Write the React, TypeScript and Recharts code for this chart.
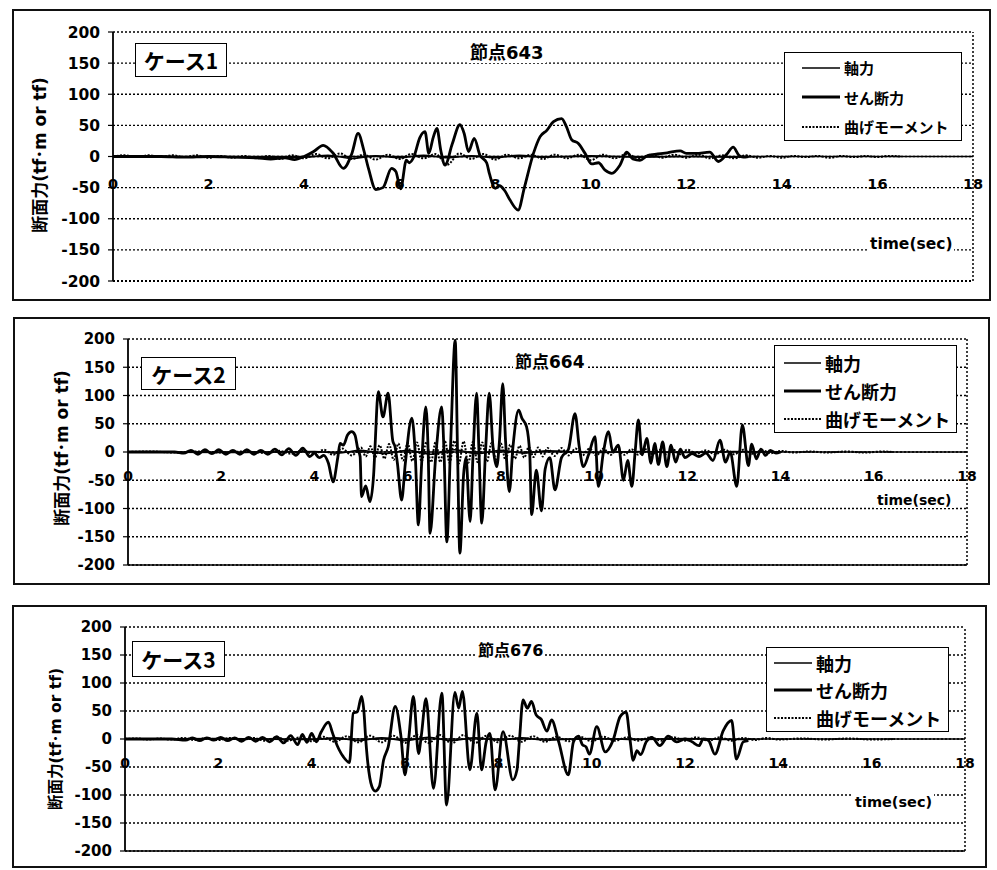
import React from 'react';
import { LineChart, Line, XAxis, YAxis, CartesianGrid, ReferenceLine, Legend } from 'recharts';

// axis ticks and labels
const timeTicks = [0, 2, 4, 6, 8, 10, 12, 14, 16, 18];
const forceTicks = [-200, -150, -100, -50, 0, 50, 100, 150, 200];
const seriesNames = ['軸力', 'せん断力', '曲げモーメント'];
const caseLabels = ['ケース1', 'ケース2', 'ケース3'];
const nodeLabels = ['節点643', '節点664', '節点676'];
const yTitle = '断面力(tf･m or tf)';
const xTitle = 'time(sec)';

// ケース1  [time, value]
const axial1: [number, number][] = [
  [0, 0], [2, -1], [4, -1], [4.5, 2], [5, -3], [5.5, 1], [6, -2], [6.5, 2], [7, -2], [7.5, 1],
  [8, -2], [8.5, 2], [9, -1], [10, 1], [11, -1], [12, 0], [13, -1], [13.5, 0],
];
const shear1: [number, number][] = [
  [0, 0], [0.5, 0], [1, 0], [1.5, -1], [2, 0], [2.5, -1], [3, -2], [3.3, -4], [3.6, -2], [3.8, -5],
  [4.0, 0], [4.2, 8], [4.4, 18], [4.6, 6], [4.82, -19], [5.0, 5], [5.13, 37], [5.25, 10], [5.35, -20],
  [5.5, -53], [5.65, -50], [5.83, -19], [5.92, -24], [6.02, -52], [6.14, -6], [6.2, -10], [6.3, 0],
  [6.42, 30], [6.53, 40], [6.61, 5], [6.7, 30], [6.78, 45], [6.86, 10], [6.95, -14], [7.1, 20],
  [7.26, 51], [7.35, 37], [7.44, 8], [7.56, 29], [7.68, 2], [7.82, -10], [7.88, -28], [8.0, -51],
  [8.09, -47], [8.2, -55], [8.31, -70], [8.48, -86], [8.61, -50], [8.8, 5], [8.94, 32], [9.08, 42],
  [9.22, 56], [9.39, 61], [9.49, 48], [9.6, 27], [9.74, 21], [9.88, 5], [10.02, -12], [10.16, -10],
  [10.3, -22], [10.44, -27], [10.61, -14], [10.75, 7], [10.88, -4], [11.03, -6], [11.2, 2], [11.4, 4],
  [11.6, 6], [11.87, 9], [12.0, 5], [12.2, 5], [12.49, 7], [12.67, -8], [12.85, 4], [12.98, 15],
  [13.1, 2], [13.19, -1], [13.3, 0],
];
const moment1: [number, number][] = [
  [0, 0], [0.25, 2], [0.5, -1], [0.75, 2], [1, -1], [1.25, 2], [1.5, -1], [1.75, 2], [2, -2], [2.25, 1],
  [2.5, -2], [2.75, 1], [3, -3], [3.25, 1], [3.5, -4], [3.75, 2], [4, -3], [4.25, 4], [4.5, -3], [4.75, 5],
  [5, -4], [5.25, 3], [5.5, -5], [5.75, 3], [6, -4], [6.25, 4], [6.5, -3], [6.75, 4], [7, -13], [7.25, 5],
  [7.5, -4], [7.75, 4], [8, -5], [8.25, 3], [8.5, -3], [8.75, 3], [9, -4], [9.25, 3], [9.5, -3], [9.75, 3],
  [10, -6], [10.25, 3], [10.5, -3], [10.75, 4], [11, -3], [11.25, 3], [11.5, -2], [11.75, 3], [12, -2],
  [12.25, 3], [12.5, -3], [12.75, 2], [13, -3], [13.25, 2], [13.5, -2], [13.75, 1], [14, -2], [14.25, 1],
  [14.5, -1], [14.75, 1], [15, -2], [15.25, 1], [15.5, -1], [15.75, 1], [16, -1], [16.25, 1], [16.5, 0],
];

// ケース2
const axial2: [number, number][] = [
  [0, 0], [2, -1], [4, 1], [4.5, -2], [5, 3], [5.5, -3], [6, 3], [6.5, -4], [7, 4], [7.5, -3],
  [8, 3], [8.5, -2], [9, 2], [10, -1], [11, 1], [12, -1], [13, 1], [14, 0],
];
const shear2: [number, number][] = [
  [0, 0], [1.0, 0], [1.2, -2], [1.35, 3], [1.5, -4], [1.65, 4], [1.8, -3], [1.95, 4], [2.1, -4], [2.25, 3],
  [2.4, -4], [2.55, 4], [2.7, -4], [2.85, 3], [3.0, -4], [3.15, 5], [3.3, -5], [3.45, 6], [3.6, -6],
  [3.75, 7], [3.9, -8], [4.0, -2], [4.1, -10], [4.2, -6], [4.3, -20], [4.4, -53], [4.5, -10], [4.55, 15],
  [4.62, 12], [4.71, 30], [4.8, 36], [4.87, 30], [4.93, 5], [4.98, -8], [5.01, -79], [5.1, -60],
  [5.19, -88], [5.27, -40], [5.3, 10], [5.37, 107], [5.47, 62], [5.58, 104], [5.68, 20], [5.73, 9],
  [5.78, -20], [5.87, -85], [5.95, -20], [6.09, 60], [6.16, 0], [6.23, -129], [6.3, -20], [6.39, 80],
  [6.44, 0], [6.48, -144], [6.6, -10], [6.73, 80], [6.78, 0], [6.84, -159], [6.92, 10], [7.02, 198],
  [7.07, 0], [7.12, -179], [7.2, -40], [7.25, -10], [7.34, -123], [7.4, -10], [7.48, 104], [7.53, 0],
  [7.59, -126], [7.67, 0], [7.75, 104], [7.83, 10], [7.91, -26], [7.97, 20], [8.04, 121], [8.1, 20],
  [8.18, -70], [8.26, 10], [8.38, 74], [8.45, 60], [8.55, 45], [8.62, -5], [8.66, -111], [8.76, -32],
  [8.87, -104], [8.95, -30], [9.05, -10], [9.16, -67], [9.3, -10], [9.45, 5], [9.59, 68], [9.68, 10],
  [9.77, -26], [9.88, -5], [10.02, 27], [10.09, -61], [10.2, 0], [10.31, 36], [10.4, 0], [10.52, 12],
  [10.63, -50], [10.72, -15], [10.81, -61], [10.88, 0], [10.95, 57], [11.03, -5], [11.13, 24],
  [11.22, -20], [11.3, 15], [11.38, -22], [11.47, 18], [11.56, -26], [11.65, 12], [11.75, -18],
  [11.85, 5], [11.95, -10], [12.1, -3], [12.25, -8], [12.4, -2], [12.55, -15], [12.7, 21], [12.82, -18],
  [12.92, 0], [13.06, -61], [13.18, 48], [13.31, -24], [13.38, 14], [13.48, -12], [13.58, 5],
  [13.68, -6], [13.78, 3], [13.9, -2], [14.0, 0],
];
const moment2: [number, number][] = [
  [0, 0], [0.5, 1], [1, -1], [1.5, 1], [2, -1], [2.5, 1], [3, -2], [3.25, 2], [3.5, -3], [3.75, 3],
  [4, -4], [4.2, 4], [4.4, -5], [4.6, 6], [4.8, -6], [5.0, 8], [5.1, -8], [5.2, 10], [5.3, -10],
  [5.4, 12], [5.5, -12], [5.6, 14], [5.7, -14], [5.8, 15], [5.9, -15], [6.0, 16], [6.1, -16], [6.2, 17],
  [6.3, -17], [6.4, 18], [6.5, -18], [6.6, 18], [6.7, -18], [6.8, 19], [6.9, -19], [7.0, 20], [7.1, -20],
  [7.2, 19], [7.3, -19], [7.4, 18], [7.5, -18], [7.6, 17], [7.7, -17], [7.8, 16], [7.9, -16], [8.0, 15],
  [8.1, -14], [8.2, 13], [8.3, -12], [8.4, 11], [8.5, -10], [8.6, 9], [8.7, -9], [8.8, 8], [8.9, -8],
  [9.0, 7], [9.15, -7], [9.3, 7], [9.45, -6], [9.6, 6], [9.75, -6], [9.9, 6], [10.05, -6], [10.2, 6],
  [10.35, -5], [10.5, 5], [10.65, -5], [10.8, 5], [10.95, -5], [11.1, 5], [11.25, -4], [11.4, 4],
  [11.55, -4], [11.7, 4], [11.85, -4], [12.0, 4], [12.2, -3], [12.4, 3], [12.6, -4], [12.8, 4], [13.0, -4],
  [13.2, 4], [13.4, -3], [13.6, 3], [13.8, -2], [14.0, 2], [14.3, -1], [14.6, 1], [15.0, -1], [15.4, 1],
  [15.8, -1], [16.2, 1], [16.4, 0],
];

// ケース3
const axial3: [number, number][] = [
  [0, 0], [2, 1], [4, -1], [4.5, 2], [5, -3], [5.5, 2], [6, -3], [6.5, 3], [7, -3], [7.5, 2],
  [8, -2], [8.5, 2], [9, -2], [10, 1], [11, -1], [12, 1], [13, -1], [13.5, 0],
];
const shear3: [number, number][] = [
  [0, 0], [1.0, 0], [1.3, -2], [1.45, 2], [1.6, -3], [1.75, 2], [1.9, -2], [2.05, 3], [2.2, -3],
  [2.35, 2], [2.5, -4], [2.65, 3], [2.8, -4], [2.95, 3], [3.1, -5], [3.25, 4], [3.4, -7], [3.55, 6],
  [3.7, -10], [3.8, 8], [3.9, -6], [4.0, 10], [4.1, -5], [4.2, 12], [4.36, 30], [4.45, 10], [4.5, -2],
  [4.68, -32], [4.81, -42], [4.89, 46], [4.98, 49], [5.07, 76], [5.12, 49], [5.16, -2], [5.29, -85],
  [5.36, -93], [5.45, -85], [5.54, -38], [5.64, -14], [5.79, 58], [5.91, 7], [6.0, -64], [6.08, 0],
  [6.18, 76], [6.29, -26], [6.35, 6], [6.45, 72], [6.61, -88], [6.79, 82], [6.89, -118], [7.07, 83],
  [7.15, 55], [7.23, 85], [7.39, -55], [7.54, 46], [7.64, -55], [7.74, -5], [7.82, 10], [7.93, -91],
  [8.1, 13], [8.31, -73], [8.4, -55], [8.45, -5], [8.53, 70], [8.62, 55], [8.71, 67], [8.81, 43],
  [8.92, 35], [9.04, 14], [9.14, 34], [9.29, -4], [9.5, -64], [9.61, -5], [9.72, 5], [9.8, -10],
  [9.88, -14], [9.95, -27], [10.11, 22], [10.29, -23], [10.46, -2], [10.61, 40], [10.74, 48],
  [10.82, 0], [10.89, -38], [10.97, -21], [11.05, -28], [11.17, -5], [11.29, 3], [11.46, -12],
  [11.64, 5], [11.82, -5], [12.0, 0], [12.15, -5], [12.3, -12], [12.39, 0], [12.5, -2], [12.64, -27],
  [12.82, 15], [13.0, 33], [13.1, -36], [13.25, -5], [13.36, -3],
];
const moment3: [number, number][] = [
  [0, 0], [0.25, 1], [0.5, -1], [0.75, 1], [1, -1], [1.25, 2], [1.5, -2], [1.75, 2], [2, -2], [2.25, 2],
  [2.5, -2], [2.75, 2], [3, -3], [3.25, 3], [3.5, -3], [3.75, 3], [4, -4], [4.25, 4], [4.5, -5],
  [4.75, 5], [5, -6], [5.25, 6], [5.5, -6], [5.75, 6], [6, -7], [6.25, 7], [6.5, -7], [6.75, 7], [7, -8],
  [7.25, 7], [7.5, -7], [7.75, 6], [8, -6], [8.25, 6], [8.5, -5], [8.75, 5], [9, -5], [9.25, 4],
  [9.5, -4], [9.75, 4], [10, -4], [10.25, 4], [10.5, -3], [10.75, 3], [11, -3], [11.25, 3], [11.5, -3],
  [11.75, 3], [12, -3], [12.25, 3], [12.5, -3], [12.75, 3], [13, -3], [13.25, 2], [13.5, -2], [13.75, 2],
  [14, -1], [14.5, 1], [15, -1], [15.5, 1], [16, -1], [16.5, 0],
];

const caseData = [
  [axial1, shear1, moment1],
  [axial2, shear2, moment2],
  [axial3, shear3, moment3],
];

const jpFont = '"Noto Sans CJK JP", "Noto Sans", sans-serif';
const numFont = '"DejaVu Sans", "Noto Sans CJK JP", sans-serif';

// line look per series (axial, shear, moment)
const lineStyles: Record<string, { width: number; dash?: string }> = {
  '軸力': { width: 1.6 },
  'せん断力': { width: 2.8 },
  '曲げモーメント': { width: 2, dash: '2 1.5' },
};

// page placement of each panel
const layouts = [
  {
    frame: { left: 12, top: 9, right: 991, bottom: 301 },
    plot: { left: 113, top: 32, right: 973, bottom: 281 },
    caseBox: { left: 135, top: 43, width: 92, height: 34 },
    title: { left: 468, cy: 53, font: 18 },
    legend: { left: 784, top: 52, width: 178, height: 89, padTop: 0, row: 29.5, inset: 17, sampleW: 38, font: 15 },
    time: { left: 868, cy: 245, font: 15.5 },
    yLabel: { cx: 40, cy: 155, font: 17 },
    tickFont: 14.5,
    yTickFont: 15.5,
    bottomSolid: false,
  },
  {
    frame: { left: 13, top: 317, right: 990, bottom: 585 },
    plot: { left: 128, top: 339, right: 967, bottom: 565 },
    caseBox: { left: 141, top: 357, width: 95, height: 33 },
    title: { left: 513, cy: 362, font: 17 },
    legend: { left: 774, top: 345, width: 183, height: 88, padTop: 3, row: 28, inset: 9, sampleW: 37, font: 18 },
    time: { left: 875, cy: 500, font: 14 },
    yLabel: { cx: 62, cy: 448, font: 17 },
    tickFont: 14,
    yTickFont: 15,
    bottomSolid: true,
  },
  {
    frame: { left: 12, top: 605, right: 987, bottom: 868 },
    plot: { left: 125, top: 627, right: 965, bottom: 851 },
    caseBox: { left: 132, top: 641, width: 93, height: 36 },
    title: { left: 476, cy: 651, font: 16 },
    legend: { left: 766, top: 647, width: 183, height: 85, padTop: 1, row: 27.5, inset: 7, sampleW: 38, font: 18 },
    time: { left: 853, cy: 802, font: 14.5 },
    yLabel: { cx: 57, cy: 739, font: 15.5 },
    tickFont: 14,
    yTickFont: 15,
    bottomSolid: true,
  },
];

const toPoints = (arr: [number, number][]) => arr.map(([t, v]) => ({ t, v }));

function Panel({ idx }: { idx: number }) {
  const L = layouts[idx];
  const { frame, plot } = L;
  const yAxisW = 50;
  const xAxisH = 6;
  const chartH = frame.bottom - frame.top;
  const plotH = plot.bottom - plot.top;
  // tick labels sit on the -50 gridline, as in the original
  const labelShift = (plotH * 150) / 400 - 1;
  const [axial, shear, moment] = caseData[idx];

  const renderTick = (p: any) => (
    <text
      x={p.x}
      y={p.y - labelShift}
      textAnchor="middle"
      fontFamily={numFont}
      fontWeight={700}
      fontSize={L.tickFont}
      fill="#000"
    >
      {p.payload.value}
    </text>
  );

  const lg = L.legend;
  const renderLegend = (props: any) => {
    const items = [...(props.payload || [])].sort(
      (a: any, b: any) => seriesNames.indexOf(a.value) - seriesNames.indexOf(b.value)
    );
    return (
      <div
        style={{
          width: lg.width,
          height: lg.height,
          boxSizing: 'border-box',
          border: '1.5px solid #000',
          background: '#fff',
          paddingTop: lg.padTop,
        }}
      >
        {items.map((it: any) => {
          const st = lineStyles[it.value];
          return (
            <div key={it.value} style={{ display: 'flex', alignItems: 'center', height: lg.row }}>
              <svg width={lg.inset + lg.sampleW + 4} height={8}>
                <line
                  x1={lg.inset}
                  x2={lg.inset + lg.sampleW}
                  y1={4}
                  y2={4}
                  stroke="#000"
                  strokeWidth={st.width}
                  strokeDasharray={st.dash}
                />
              </svg>
              <span style={{ fontFamily: jpFont, fontWeight: 700, fontSize: lg.font, lineHeight: 1 }}>{it.value}</span>
            </div>
          );
        })}
      </div>
    );
  };

  return (
    <>
      <div
        style={{
          position: 'absolute',
          left: frame.left,
          top: frame.top,
          width: frame.right - frame.left,
          height: chartH,
          boxSizing: 'border-box',
          border: '2px solid #111',
        }}
      />
      <div style={{ position: 'absolute', left: 0, top: frame.top }}>
        <LineChart
          width={997}
          height={chartH}
          margin={{
            top: plot.top - frame.top,
            bottom: frame.bottom - plot.bottom - xAxisH,
            left: plot.left - yAxisW,
            right: 997 - plot.right,
          }}
        >
          <CartesianGrid vertical={false} stroke="#000" strokeDasharray="2 2" strokeWidth={1.3} />
          <XAxis
            dataKey="t"
            type="number"
            domain={[0, 18]}
            ticks={timeTicks}
            interval={0}
            allowDataOverflow
            height={xAxisH}
            axisLine={false}
            tickLine={false}
            tickSize={0}
            tickMargin={0}
            tick={renderTick}
          />
          <YAxis
            type="number"
            domain={[-200, 200]}
            ticks={forceTicks}
            interval={0}
            width={yAxisW}
            axisLine={{ stroke: '#000', strokeWidth: 1.8 }}
            tickLine={{ stroke: '#000', strokeWidth: 1.2 }}
            tickSize={5}
            tickMargin={8}
            tick={{ fill: '#000', fontFamily: numFont, fontWeight: 700, fontSize: L.yTickFont }}
          />
          <ReferenceLine x={18} stroke="#000" strokeDasharray="2 2" strokeWidth={1.5} />
          <ReferenceLine
            y={-200}
            stroke="#000"
            strokeWidth={L.bottomSolid ? 1.6 : 2}
            strokeDasharray={L.bottomSolid ? undefined : '2 2'}
          />
          <ReferenceLine y={0} stroke="#000" strokeWidth={1.6} />
          <Line
            data={toPoints(axial)}
            dataKey="v"
            name={seriesNames[0]}
            type="monotone"
            stroke="#000"
            strokeWidth={lineStyles[seriesNames[0]].width}
            dot={false}
            isAnimationActive={false}
          />
          <Line
            data={toPoints(shear)}
            dataKey="v"
            name={seriesNames[1]}
            type="monotone"
            stroke="#000"
            strokeWidth={lineStyles[seriesNames[1]].width}
            dot={false}
            isAnimationActive={false}
          />
          <Line
            data={toPoints(moment)}
            dataKey="v"
            name={seriesNames[2]}
            type="monotone"
            stroke="#000"
            strokeWidth={lineStyles[seriesNames[2]].width}
            strokeDasharray={lineStyles[seriesNames[2]].dash}
            dot={false}
            isAnimationActive={false}
          />
          <Legend
            layout="vertical"
            align="center"
            verticalAlign="middle"
            content={renderLegend}
            wrapperStyle={{
              left: lg.left,
              top: lg.top - frame.top,
              width: lg.width,
              height: lg.height,
            }}
          />
        </LineChart>
      </div>
      <div
        style={{
          position: 'absolute',
          left: L.caseBox.left,
          top: L.caseBox.top,
          width: L.caseBox.width,
          height: L.caseBox.height,
          boxSizing: 'border-box',
          border: '1.8px solid #000',
          background: '#fff',
          display: 'flex',
          alignItems: 'center',
          justifyContent: 'center',
          fontFamily: jpFont,
          fontWeight: 700,
          fontSize: 21,
        }}
      >
        {caseLabels[idx]}
      </div>
      <div
        style={{
          position: 'absolute',
          left: L.title.left,
          top: L.title.cy,
          transform: 'translateY(-50%)',
          fontFamily: numFont,
          fontWeight: 700,
          fontSize: L.title.font,
          lineHeight: 1,
          background: '#fff',
          padding: '1px 2px',
        }}
      >
        {nodeLabels[idx]}
      </div>
      <div
        style={{
          position: 'absolute',
          left: L.time.left,
          top: L.time.cy,
          transform: 'translateY(-50%)',
          fontFamily: numFont,
          fontWeight: 700,
          fontSize: L.time.font,
          lineHeight: 1,
          background: '#fff',
          padding: '1px 2px',
        }}
      >
        {xTitle}
      </div>
      <div
        style={{
          position: 'absolute',
          left: L.yLabel.cx,
          top: L.yLabel.cy,
          transform: 'translate(-50%, -50%) rotate(-90deg)',
          whiteSpace: 'nowrap',
          fontFamily: numFont,
          fontWeight: 700,
          fontSize: L.yLabel.font,
          lineHeight: 1,
        }}
      >
        {yTitle}
      </div>
    </>
  );
}

export default function App() {
  return (
    <div
      style={{
        position: 'absolute',
        left: 0,
        top: 0,
        width: 997,
        height: 870,
        overflow: 'hidden',
        background: '#fff',
      }}
    >
      <Panel idx={0} />
      <Panel idx={1} />
      <Panel idx={2} />
    </div>
  );
}
